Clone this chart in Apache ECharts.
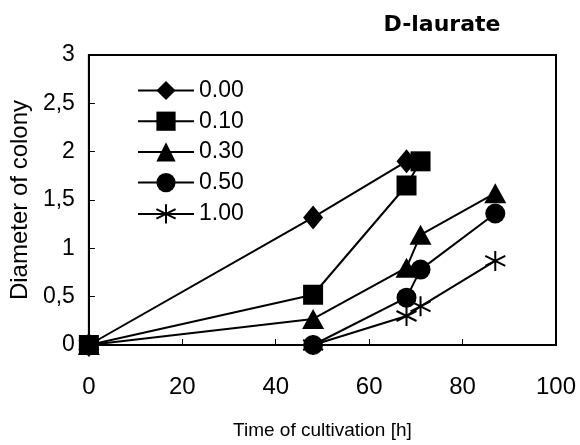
<!DOCTYPE html>
<html><head><meta charset="utf-8">
<script src="https://cdn.jsdelivr.net/npm/echarts@6/dist/echarts.min.js"></script>
<style>html,body{margin:0;padding:0;background:#fff}#c{width:580px;height:445px}</style>
</head><body><div id="c"></div>
<script>
const title = 'D-laurate';
const xName = 'Time of cultivation [h]';
const yName = 'Diameter of colony';
const seriesNames = ['0.00', '0.10', '0.30', '0.50', '1.00'];
const times00 = [0, 48, 68];
const vals00  = [0, 1.32, 1.90];
const times10 = [0, 48, 68, 71];
const vals10  = [0, 0.52, 1.65, 1.90];
const times30 = [0, 48, 68, 71, 87];
const vals30  = [0, 0.27, 0.80, 1.14, 1.57];
const times50 = [0, 48, 68, 71, 87];
const vals50  = [0, 0, 0.49, 0.78, 1.36];
const times100 = [0, 48, 68, 71, 87];
const vals100  = [0, 0, 0.30, 0.40, 0.87];
const xTicks = [0, 20, 40, 60, 80, 100];
const yTicks = [0, 0.5, 1, 1.5, 2, 2.5, 3];

const pair = (t, v) => t.map((x, i) => [x, v[i]]);
const star = 'path://M10,0L10,20M1.3,5L18.7,15M1.3,15L18.7,5';
const narrow = "'Liberation Sans Narrow','Liberation Sans',Arial,sans-serif";
const regular = "'Liberation Sans',Arial,sans-serif";

const mk = (name, data, symbol, size, z, extra) => Object.assign({
  name, type: 'line', data, symbol, symbolSize: size, z,
  lineStyle: { color: '#000', width: 2 },
  itemStyle: { color: '#000' },
  emphasis: { disabled: true }, animation: false
}, extra || {});

const chart = echarts.init(document.getElementById('c'));
chart.setOption({
  animation: false,
  title: { text: title, left: 437, top: 9, textAlign: 'center',
    textStyle: { fontFamily: "'DejaVu Sans',sans-serif", fontWeight: 'bold', fontSize: 22, color: '#000' } },
  grid: { left: 84, right: 24, top: 55, bottom: 98, show: true, borderColor: '#000', borderWidth: 2, containLabel: false },
  legend: {
    orient: 'vertical', left: 137, top: 79, padding: 0, itemWidth: 56, itemHeight: 24, itemGap: 7.7,
    data: seriesNames,
    textStyle: { fontFamily: narrow, fontSize: 23, color: '#000', padding: [0, 0, 0, 0] }
  },
  xAxis: {
    type: 'value', min: 0, max: 100, interval: 20,
    name: xName, nameLocation: 'middle', nameGap: 76,
    nameTextStyle: { fontFamily: narrow, fontSize: 19, color: '#000' },
    axisLine: { show: true, lineStyle: { color: '#000', width: 2 } },
    axisTick: { show: true, inside: true, length: 6, lineStyle: { color: '#000' } },
    axisLabel: { margin: 30, fontFamily: narrow, fontSize: 24, color: '#000',
      formatter: v => xTicks.includes(v) ? String(v) : '' },
    splitLine: { show: false }
  },
  yAxis: {
    type: 'value', min: 0, max: 3, interval: 0.5,
    name: yName, nameLocation: 'middle', nameGap: 49,
    nameTextStyle: { fontFamily: regular, fontSize: 24, color: '#000' },
    axisLine: { show: true, lineStyle: { color: '#000', width: 2 } },
    axisTick: { show: true, inside: true, length: 6, lineStyle: { color: '#000' } },
    axisLabel: { margin: 14, fontFamily: regular, fontSize: 23, color: '#000',
      formatter: v => yTicks.includes(v) ? String(v).replace('.', ',') : '' },
    splitLine: { show: false }
  },
  series: [
    mk(seriesNames[0], pair(times00, vals00), 'diamond', [20, 24], 3),
    mk(seriesNames[1], pair(times10, vals10), 'rect', 20, 5),
    mk(seriesNames[2], pair(times30, vals30), 'triangle', [22, 20], 4),
    mk(seriesNames[3], pair(times50, vals50), 'circle', 20, 4),
    mk(seriesNames[4], pair(times100, vals100), star, 20, 2,
      { itemStyle: { color: 'none', borderColor: '#000', borderWidth: 2 } })
  ]
});
</script></body></html>
